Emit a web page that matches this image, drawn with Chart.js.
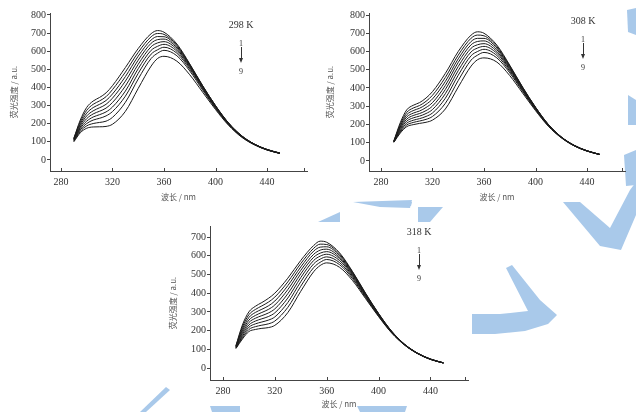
<!DOCTYPE html>
<html>
<head>
<meta charset="utf-8">
<script src="https://cdn.jsdelivr.net/npm/chart.js@4/dist/chart.umd.min.js"></script>
<style>
  body { margin: 0; background: #fff; }
  #wrap { position: relative; width: 636px; height: 412px; overflow: hidden; background: #fff; }
  #bg { position: absolute; left: 0; top: 0; }
  canvas { position: absolute; }
  .tag { position: absolute; font-family: "Liberation Serif", serif; color: #333; font-size: 9px; transform: translate(-50%, -50%); white-space: nowrap; }
  .stem { position: absolute; width: 0; border-left: 1px solid #333; }
  .head { position: absolute; width: 0; height: 0; border-left: 2px solid transparent; border-right: 2px solid transparent; border-top: 5px solid #333; }
</style>
</head>
<body>
<div id="wrap">
  <svg id="bg" width="636" height="412">
    <g fill="#a9c9ea">
      <polygon points="563,202 580,202 610,228 630,190 636,182 636,215 621,250 600,246"/>
      <polygon points="506,268 512,265 540,300 557,315 548,324 525,331 495,334 472,334 472,314 500,314 528,311"/>
      <polygon points="627,10 636,8 636,35 628,32"/>
      <polygon points="628,95 636,100 636,125 628,125"/>
      <polygon points="624,155 636,150 636,185 626,186"/>
      <polygon points="400,202 412,202 411,206 400,206"/>
      <polygon points="418,207 443,207 430,222 418,222"/>
      <polygon points="353,202 412,200 410,208 380,207"/>
      <polygon points="318,222 340,212 340,222"/>
      <polygon points="140,412 146,412 170,390 166,387"/>
      <polygon points="210,406 240,406 240,412 212,412"/>
      <polygon points="357,406 407,406 405,412 360,412"/>
    </g>
  </svg>
  <canvas id="c298" width="320" height="202" style="left:0;top:0"></canvas>
  <canvas id="c308" width="316" height="202" style="left:320px;top:0"></canvas>
  <canvas id="c318" width="320" height="209" style="left:160px;top:200px"></canvas>
</div>
<script>
// wavelength (nm) sampled along the curves
const wavelengths = [290,295,300,305,310,315,320,330,340,350,355,360,370,380,390,400,410,420,430,440,450];

const xTicks = [280, 320, 360, 400, 440];
const yTicksTop = [0,100,200,300,400,500,600,700,800];
const yTicksBottom = [0,100,200,300,400,500,600,700];

// 298 K, curves 1 -> 9
const s298 = [
  [120,220,290,325,345,370,410,510,615,697,714,705,640,530,410,300,205,135,88,58,38],
  [118,210,274,307,326,349,388,485,594,680,698,693,633,527,409,299,205,135,88,58,38],
  [116,200,258,289,307,328,364,460,573,662,681,680,626,524,407,298,204,134,88,57,37],
  [114,191,243,271,288,307,341,435,551,644,664,667,618,520,405,296,203,134,87,57,37],
  [112,182,228,254,269,286,317,408,528,625,646,653,610,515,402,294,202,133,87,57,37],
  [109,174,214,237,250,265,292,380,504,605,627,638,600,509,398,291,200,132,86,56,37],
  [106,166,201,220,230,243,267,352,478,584,608,622,589,501,393,288,198,131,86,56,36],
  [103,158,188,201,207,214,235,318,447,560,589,605,575,491,386,284,196,129,85,55,36],
  [100,150,175,182,183,185,197,268,395,518,560,572,545,470,374,278,192,127,84,55,36]
];

// 308 K
const s308 = [
  [110,210,280,305,320,345,380,480,600,690,708,700,635,525,405,295,200,132,86,56,36],
  [109,201,266,290,304,327,360,458,580,673,690,686,627,521,403,294,200,132,86,56,36],
  [108,193,253,276,289,310,340,436,560,655,672,672,619,517,401,293,199,131,85,56,36],
  [107,186,241,262,274,293,320,414,540,637,655,658,610,512,398,291,198,131,85,55,36],
  [106,179,229,249,260,276,301,392,518,618,637,643,600,506,395,289,197,130,85,55,35],
  [105,172,218,236,246,260,282,369,495,598,619,628,590,500,391,287,196,130,84,55,35],
  [104,165,207,223,232,244,263,344,470,577,600,612,578,492,386,284,194,129,84,55,35],
  [103,159,197,211,219,228,244,316,441,553,580,595,565,483,381,281,192,128,83,54,35],
  [102,153,188,199,206,212,224,285,405,520,555,565,542,468,372,276,190,127,83,54,35]
];

// 318 K
const s318 = [
  [120,230,300,330,350,372,400,480,575,655,678,672,615,515,400,292,198,128,80,48,28],
  [118,219,285,313,332,352,379,460,558,640,662,660,608,512,398,291,197,127,80,48,28],
  [116,208,270,297,314,332,358,440,540,625,646,648,600,508,396,290,196,127,79,48,28],
  [114,198,256,281,297,313,337,419,522,608,630,635,592,503,393,288,195,126,79,47,28],
  [112,188,243,266,280,294,316,397,503,592,614,622,584,498,390,286,194,126,79,47,27],
  [110,179,230,251,263,275,295,374,483,575,598,608,574,492,386,284,193,125,78,47,27],
  [108,170,218,236,246,256,273,350,461,557,582,594,563,485,382,281,191,124,78,47,27],
  [106,162,206,221,229,236,251,324,437,537,565,580,552,477,377,278,190,124,78,46,27],
  [104,155,195,206,212,216,228,296,410,515,548,562,538,467,371,275,188,123,77,46,27]
];

const yTitle = '荧光强度 / a.u.';
const xTitle = '波长 / nm';
const axisColor = '#444';
const tickFont = {family: 'Liberation Serif', size: 10};
const titleFont = {family: 'Noto Sans CJK SC', size: 8};

// small inward ticks on the x axis
const innerTicks = {
  id: 'innerTicks',
  afterDraw(chart) {
    const ctx = chart.ctx, x = chart.scales.x, bottom = chart.chartArea.bottom;
    ctx.save();
    ctx.strokeStyle = axisColor;
    ctx.lineWidth = 1;
    xTicks.concat([x.max - 2]).forEach(v => {
      const px = Math.round(x.getPixelForValue(v)) + 0.5;
      ctx.beginPath();
      ctx.moveTo(px, bottom);
      ctx.lineTo(px, bottom - 3);
      ctx.stroke();
    });
    ctx.restore();
  }
};

function makeChart(id, series, opt) {
  const datasets = series.map(vals => ({
    data: wavelengths.map((w, i) => ({x: w, y: vals[i]})),
    borderColor: '#1a1a1a',
    borderWidth: 1,
    pointRadius: 0,
    fill: false,
    cubicInterpolationMode: 'monotone'
  }));
  return new Chart(document.getElementById(id), {
    type: 'line',
    data: {datasets},
    plugins: [innerTicks],
    options: {
      responsive: false,
      animation: false,
      devicePixelRatio: 1,
      layout: {padding: opt.pad},
      plugins: {legend: {display: false}, tooltip: {enabled: false}},
      scales: {
        x: {
          type: 'linear',
          min: opt.xMin, max: opt.xMax,
          afterBuildTicks: s => { s.ticks = xTicks.map(v => ({value: v})); },
          afterFit: s => { s.height = opt.xH; },
          border: {display: true, color: axisColor, width: 1},
          grid: {drawOnChartArea: false, drawTicks: false},
          ticks: {font: tickFont, color: '#333', padding: 5, maxRotation: 0},
          title: {display: true, text: xTitle, font: titleFont, color: '#555', padding: 0}
        },
        y: {
          min: opt.yMin, max: opt.yMax,
          afterBuildTicks: s => { s.ticks = opt.yTicks.map(v => ({value: v})); },
          afterFit: s => { s.width = opt.yW; },
          border: {display: true, color: axisColor, width: 1},
          grid: {drawOnChartArea: false, drawTicks: true, tickLength: 3, color: axisColor},
          ticks: {font: tickFont, color: '#333', padding: 1},
          title: {display: true, text: yTitle, font: titleFont, color: '#555', padding: 0}
        }
      }
    }
  });
}

makeChart('c298', s298, {pad: {left: 9, top: 13, right: 13, bottom: 0}, xH: 31, yW: 41,
  xMin: 271.5, xMax: 471, yMin: -61, yMax: 811, yTicks: yTicksTop});
makeChart('c308', s308, {pad: {left: 5, top: 13, right: 11, bottom: 0}, xH: 31, yW: 44,
  xMin: 270.7, xMax: 469.5, yMin: -55, yMax: 811, yTicks: yTicksTop});
makeChart('c318', s318, {pad: {left: 8, top: 26, right: 12, bottom: 0}, xH: 29, yW: 42,
  xMin: 270, xMax: 469, yMin: -64, yMax: 759, yTicks: yTicksBottom});

// temperature tag and arrow for each panel
function addTag(x, y, label) {
  const wrap = document.getElementById('wrap');
  const put = (html, cls, css) => {
    const d = document.createElement('div');
    d.className = cls; d.textContent = html; Object.assign(d.style, css);
    wrap.appendChild(d); return d;
  };
  put(label, 'tag', {left: x + 'px', top: y + 'px', fontSize: '10px'});
  put('1', 'tag', {left: x + 'px', top: (y + 19) + 'px', fontSize: '8px'});
  put('', 'stem', {left: x + 'px', top: (y + 23) + 'px', height: '13px'});
  put('', 'head', {left: (x - 2) + 'px', top: (y + 34) + 'px'});
  put('9', 'tag', {left: x + 'px', top: (y + 47) + 'px', fontSize: '8px'});
}
addTag(241, 24, '298 K');
addTag(583, 20, '308 K');
addTag(419, 231, '318 K');
</script>
</body>
</html>
